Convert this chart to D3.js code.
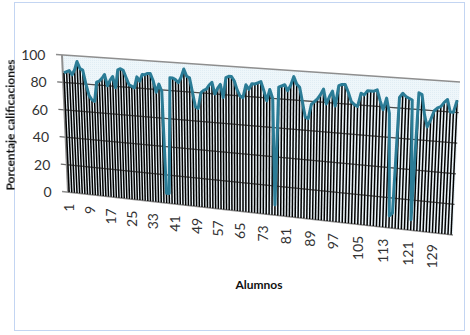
<!DOCTYPE html>
<html>
<head>
<meta charset="utf-8">
<style>
  body { margin: 0; background: #fff; }
  svg { display: block; filter: blur(0.35px); }
  text { font-family: Lato, "Open Sans", sans-serif; }
</style>
<script src="https://cdn.jsdelivr.net/npm/d3@7"></script>
</head>
<body>
<div id="grafica"></div>
<script>
var calificaciones = [
  87, 88, 89, 86, 90, 96, 91, 90, 80, 72, 69, 68, 82, 83, 85, 88, 80, 84, 87, 79,
  92, 93, 92, 87, 82, 81, 80, 88, 85, 90, 90, 91, 91, 86, 78, 84, 79, 7, 7, 89,
  89, 88, 86, 90, 96, 91, 90, 80, 70, 69, 80, 82, 83, 86, 88, 80, 84, 87, 78, 92,
  93, 93, 90, 84, 80, 79, 88, 85, 89, 89, 90, 91, 85, 78, 86, 80, 7, 88, 89, 90,
  86, 90, 96, 91, 89, 79, 69, 68, 78, 80, 82, 85, 89, 79, 84, 88, 78, 92, 93, 93,
  88, 82, 80, 79, 88, 87, 90, 90, 90, 91, 84, 78, 86, 76, 8, 10, 87, 90, 88, 87,
  86, 7, 91, 90, 77, 69, 74, 80, 82, 83, 86, 88, 80, 80, 88
];
var alumnos = calificaciones.map(function (d, i) { return i + 1; });
var xTicks = [1, 9, 17, 25, 33, 41, 49, 57, 65, 73, 81, 89, 97, 105, 113, 121, 129];
var yTicks = [0, 20, 40, 60, 80, 100];

var width = 470, height = 335;

var svg = d3.select("#grafica")
  .append("svg")
  .attr("width", width)
  .attr("height", height);

// ---------------------------//
//    PERSPECTIVE SCALES      //
// ---------------------------//

// how far along the wall each student sits (columns get wider to the right)
var along = d3.scaleLinear()
  .domain([1, 33, 65, 97, 135])
  .range([0.003, 0.221, 0.447, 0.688, 0.995]);
var up = d3.scaleLinear().domain([0, 100]).range([0, 1]);

// the four edges of the tilted plot
var xBase = d3.scaleLinear().domain([0, 1]).range([68, 453]);
var yBase = d3.scaleLinear().domain([0, 1]).range([192, 235]);
var xTop = d3.scaleLinear().domain([0, 1]).range([62, 460]);
var yTop = d3.scaleLinear().domain([0, 1]).range([55, 82]);

var px = function (f, v) {
  return xBase(f) + (xTop(f) - xBase(f)) * up(v);
};
var py = function (f, v) {
  return yBase(f) + (yTop(f) - yBase(f)) * up(v);
};

// ---------------------------//
//       BORDER AND WALL      //
// ---------------------------//

svg.append("rect")
  .attr("x", 14.5)
  .attr("y", 2.5)
  .attr("width", 450)
  .attr("height", 328)
  .style("fill", "#fff")
  .style("stroke", "#c3d5f2")
  .style("stroke-width", 1);

var pattern = svg.append("defs").append("pattern")
  .attr("id", "puntos")
  .attr("width", 2)
  .attr("height", 2)
  .attr("patternUnits", "userSpaceOnUse");
pattern.append("rect").attr("width", 2).attr("height", 2).style("fill", "#eef6fa");
pattern.append("rect").attr("width", 1).attr("height", 1).style("fill", "#e0edf4");

svg.append("polygon")
  .attr("points", [[0, 0], [1, 0], [1, 100], [0, 100]].map(function (d) {
    return px(d[0], d[1]) + "," + py(d[0], d[1]);
  }).join(" "))
  .style("fill", "url(#puntos)");

// Grid lines and the small stubs to the left of the wall
svg.append("g")
  .selectAll("line")
  .data(yTicks)
  .enter()
  .append("line")
  .attr("x1", function (d) { return px(0, d) - 6; })
  .attr("y1", function (d) { return py(0, d) - 0.5; })
  .attr("x2", function (d) { return px(1, d); })
  .attr("y2", function (d) { return py(1, d); })
  .style("stroke", function (d) { return d == 100 || d == 0 ? "#8e8e8e" : "#6e6e6e"; })
  .style("stroke-width", function (d) { return d == 100 || d == 0 ? 1.6 : 1.2; });

svg.append("line")
  .attr("x1", px(0, 0))
  .attr("y1", py(0, 0))
  .attr("x2", px(0, 100))
  .attr("y2", py(0, 100))
  .style("stroke", "#8e8e8e")
  .style("stroke-width", 2);

// ---------------------------//
//       BARS AND LINE        //
// ---------------------------//

svg.append("g")
  .selectAll("line")
  .data(alumnos)
  .enter()
  .append("line")
  .attr("x1", function (d) { return px(along(d), 0); })
  .attr("y1", function (d) { return py(along(d), 0); })
  .attr("x2", function (d) { return px(along(d), calificaciones[d - 1]); })
  .attr("y2", function (d) { return py(along(d), calificaciones[d - 1]); })
  .style("stroke", "#000")
  .style("stroke-width", 1.5);

// the grid still shows across the bars
svg.append("g")
  .selectAll("line")
  .data([20, 40, 60, 80])
  .enter()
  .append("line")
  .attr("x1", function (d) { return px(0, d); })
  .attr("y1", function (d) { return py(0, d); })
  .attr("x2", function (d) { return px(1, d); })
  .attr("y2", function (d) { return py(1, d); })
  .style("stroke", "#2b2b2b")
  .style("stroke-opacity", 0.55)
  .style("stroke-width", 1);

var linea = d3.line()
  .x(function (d) { return px(along(d), calificaciones[d - 1]); })
  .y(function (d) { return py(along(d), calificaciones[d - 1]); });

svg.append("path")
  .datum(alumnos)
  .attr("d", linea)
  .style("fill", "none")
  .style("stroke", "#2b7c96")
  .style("stroke-width", 3)
  .style("stroke-linejoin", "round");

// ---------------------------//
//          LABELS            //
// ---------------------------//

svg.append("g")
  .selectAll("text")
  .data(yTicks)
  .enter()
  .append("text")
  .attr("x", function (d) { return px(0, d) - 16.5; })
  .attr("y", function (d) { return py(0, d) + 5; })
  .attr("text-anchor", "end")
  .style("font-size", "14px")
  .style("fill", "#333")
  .text(function (d) { return d; });

svg.append("g")
  .selectAll("text")
  .data(xTicks)
  .enter()
  .append("text")
  .attr("transform", function (d) {
    return "translate(" + (xBase(along(d)) + 5) + "," + (yBase(along(d)) + 11.5) + ") rotate(-90)";
  })
  .attr("text-anchor", "end")
  .style("font-size", "14px")
  .style("fill", "#333")
  .text(function (d) { return d; });

svg.append("text")
  .attr("transform", "translate(14.5,125) rotate(-90)")
  .attr("text-anchor", "middle")
  .style("font-size", "12px")
  .style("font-weight", "bold")
  .style("fill", "#111")
  .text("Porcentaje calificaciones");

svg.append("text")
  .attr("x", 259)
  .attr("y", 289)
  .attr("text-anchor", "middle")
  .style("font-size", "12px")
  .style("font-weight", "bold")
  .style("fill", "#111")
  .text("Alumnos");
</script>
</body>
</html>
